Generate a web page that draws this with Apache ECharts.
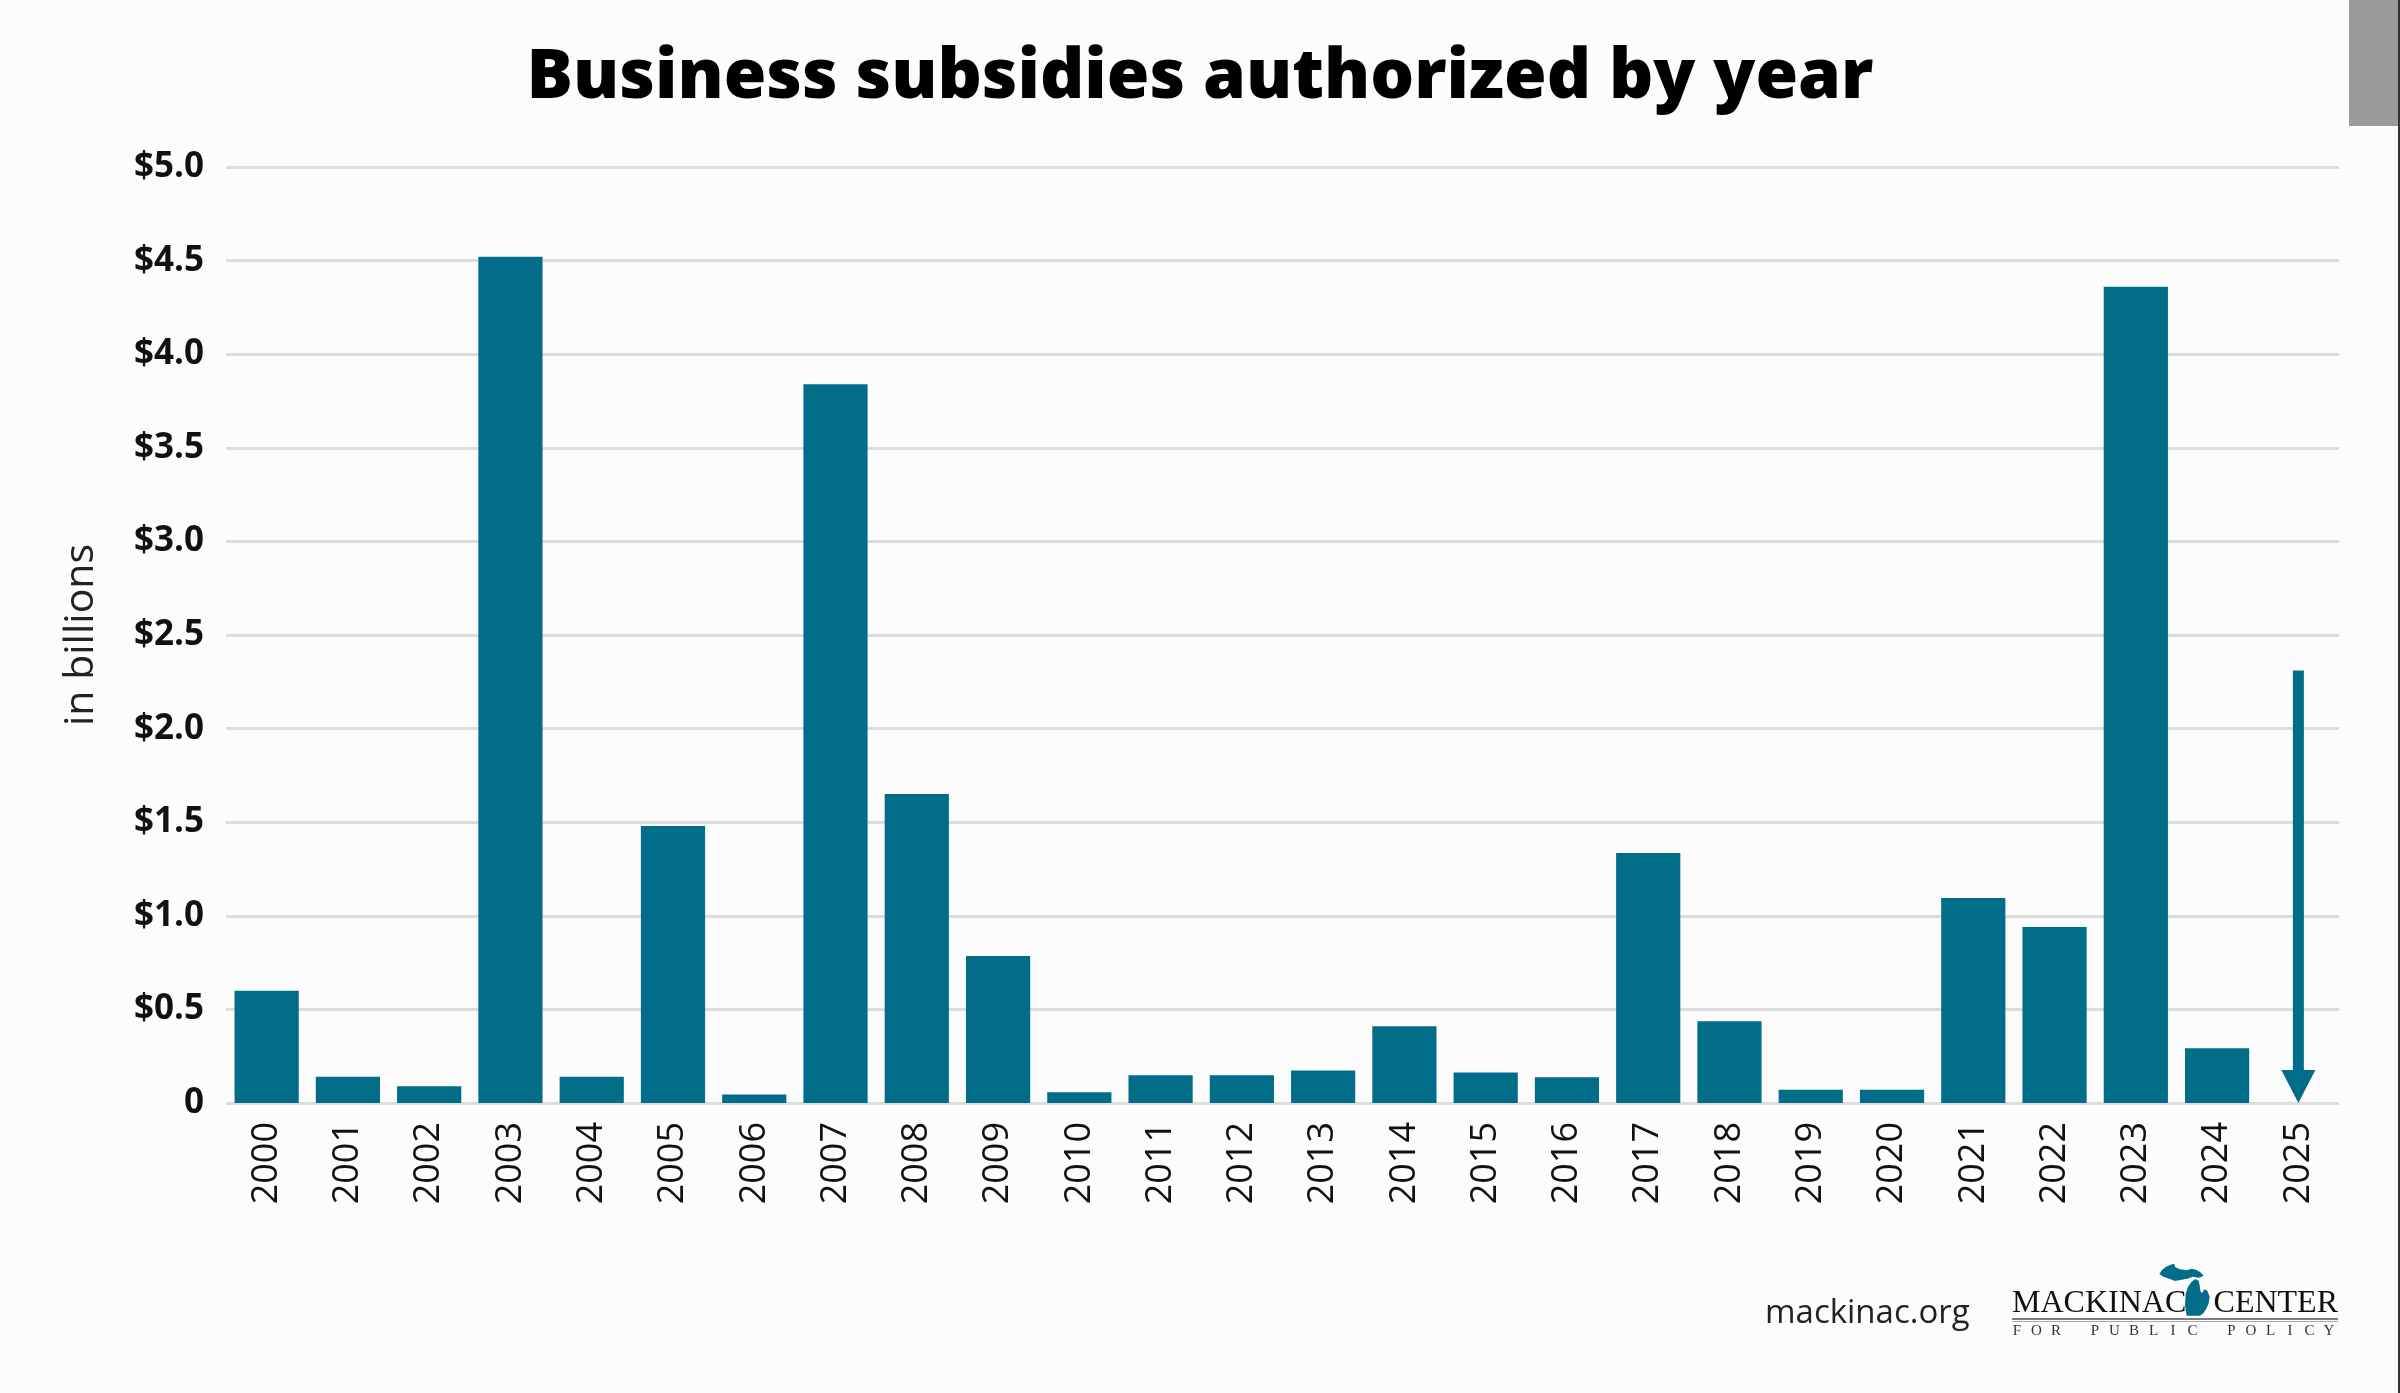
<!DOCTYPE html>
<html>
<head>
<meta charset="utf-8">
<script src="https://cdn.jsdelivr.net/npm/echarts@6/dist/echarts.min.js"></script>
<style>
  html, body { margin: 0; padding: 0; background: #fcfcfc; }
  #chart { width: 2400px; height: 1393px; }
</style>
</head>
<body>
<div id="chart"></div>
<script>
// ---- data ----
const years = ['2000','2001','2002','2003','2004','2005','2006','2007','2008','2009',
               '2010','2011','2012','2013','2014','2015','2016','2017','2018','2019',
               '2020','2021','2022','2023','2024','2025'];
const subsidies = [0.60, 0.14, 0.09, 4.52, 0.14, 1.48, 0.045, 3.84, 1.65, 0.785,
                   0.058, 0.148, 0.148, 0.174, 0.41, 0.163, 0.138, 1.335, 0.437, 0.071,
                   0.071, 1.095, 0.94, 4.36, 0.292, null];
const arrowYear = ['2025'];
const arrowFrom = [2.31];
const yTickValues = [0, 0.5, 1, 1.5, 2, 2.5, 3, 3.5, 4, 4.5, 5];
const yTickLabels = ['0','$0.5','$1.0','$1.5','$2.0','$2.5','$3.0','$3.5','$4.0','$4.5','$5.0'];
const titleText = 'Business subsidies authorized by year';
const yAxisName = 'in billions';
const sourceText = 'mackinac.org';

// ---- style ----
const TEAL = '#016d89';
const FONT = '"Open Sans", "Noto Sans", sans-serif';
const SERIF = '"Liberation Serif", "DejaVu Serif", serif';

const chart = echarts.init(document.getElementById('chart'));

// Logo decorative pieces
const michigan = [
  { type: 'polygon', x: 2000, y: 1250, scaleX: 1/3, scaleY: 1/3, silent: true,
    shape: { points: [[478,72],[486,60],[498,50],[512,44],[522,41],[526,52],[540,58],[560,61],[575,56],
                      [590,60],[603,68],[611,78],[596,83],[578,80],[562,86],[545,89],[525,93],[508,86],[490,80]] },
    style: { fill: TEAL } },
  { type: 'polygon', x: 2000, y: 1250, scaleX: 1/3, scaleY: 1/3, silent: true,
    shape: { points: [[560,197],[555,165],[557,132],[564,110],[575,95],[586,87],[596,92],[599,106],[601,122],
                      [606,130],[613,118],[622,122],[629,140],[626,160],[619,176],[610,190],[600,197]] },
    style: { fill: TEAL } }
];
const fpp = 'FOR PUBLIC POLICY';
const fppEls = [];
for (let i = 0; i < fpp.length; i++) {
  if (fpp[i] === ' ') continue;
  fppEls.push({ type: 'text', x: 2017 + i * 19.5, y: 1331, silent: true,
    style: { text: fpp[i], fill: '#333', font: '15px ' + SERIF, align: 'center', verticalAlign: 'middle' } });
}

chart.setOption({
  backgroundColor: '#fcfcfc',
  animation: false,
  title: {
    text: titleText,
    left: 'center',
    top: 39,
    textStyle: { fontFamily: FONT, fontSize: 69, fontWeight: 800, color: '#000' }
  },
  grid: { left: 226, right: 61, top: 167, bottom: 290, containLabel: false },
  xAxis: {
    type: 'category',
    data: years,
    axisLine: { show: false },
    axisTick: { show: false },
    axisLabel: { rotate: 90, margin: 19, fontFamily: FONT, fontSize: 36, color: '#111', interval: 0 }
  },
  yAxis: {
    type: 'value',
    min: 0, max: 5, interval: 0.5,
    name: yAxisName,
    nameLocation: 'middle',
    nameRotate: 90,
    nameGap: 124,
    nameTextStyle: { fontFamily: FONT, fontSize: 41, color: '#222' },
    axisLine: { show: false },
    axisTick: { show: false },
    splitLine: { lineStyle: { color: '#dcdcdc', width: 3 } },
    axisLabel: {
      margin: 22, fontFamily: FONT, fontSize: 35, fontWeight: 'bold', color: '#111',
      formatter: (v) => { const i = yTickValues.findIndex(t => Math.abs(t - v) < 1e-9); return i >= 0 ? yTickLabels[i] : ''; }
    }
  },
  series: [
    {
      type: 'bar',
      data: subsidies,
      barCategoryGap: '21%',
      itemStyle: { color: TEAL },
      silent: true
    },
    {
      type: 'custom',
      data: arrowYear.map((y, i) => [y, arrowFrom[i]]),
      encode: { x: 0, y: 1 },
      silent: true,
      renderItem: (params, api) => {
        const top = api.coord([api.value(0), api.value(1)]);
        const bot = api.coord([api.value(0), 0]);
        const headH = 33, headW = 34, shaftW = 11;
        return {
          type: 'group',
          children: [
            { type: 'rect', shape: { x: top[0] - shaftW / 2, y: top[1], width: shaftW, height: bot[1] - headH - top[1] + 1 }, style: { fill: TEAL } },
            { type: 'polygon', shape: { points: [[top[0] - headW / 2, bot[1] - headH], [top[0] + headW / 2, bot[1] - headH], [top[0], bot[1]]] }, style: { fill: TEAL } }
          ]
        };
      }
    }
  ],
  graphic: [
    { type: 'rect', silent: true, shape: { x: 2349, y: 0, width: 49, height: 126 }, style: { fill: '#9b9b9b' } },
    { type: 'rect', silent: true, shape: { x: 2398, y: 0, width: 2, height: 1393 }, style: { fill: '#333' } },
    { type: 'text', silent: true, x: 1765, y: 1314,
      style: { text: sourceText, fill: '#222', font: '33px ' + FONT, align: 'left', verticalAlign: 'middle' } },
    { type: 'text', silent: true, x: 2012, y: 1304,
      style: { text: 'MACKINAC', fill: '#111', font: '32px ' + SERIF, align: 'left', verticalAlign: 'middle' } },
    { type: 'text', silent: true, x: 2338, y: 1304,
      style: { text: 'CENTER', fill: '#111', font: '32px ' + SERIF, align: 'right', verticalAlign: 'middle' } },
    { type: 'line', silent: true, shape: { x1: 2012, y1: 1319, x2: 2338, y2: 1319 }, style: { stroke: '#555', lineWidth: 1.5 } },
    { type: 'line', silent: true, shape: { x1: 2012, y1: 1321.5, x2: 2338, y2: 1321.5 }, style: { stroke: '#aaa', lineWidth: 1 } },
    ...michigan,
    ...fppEls
  ]
});
</script>
</body>
</html>
